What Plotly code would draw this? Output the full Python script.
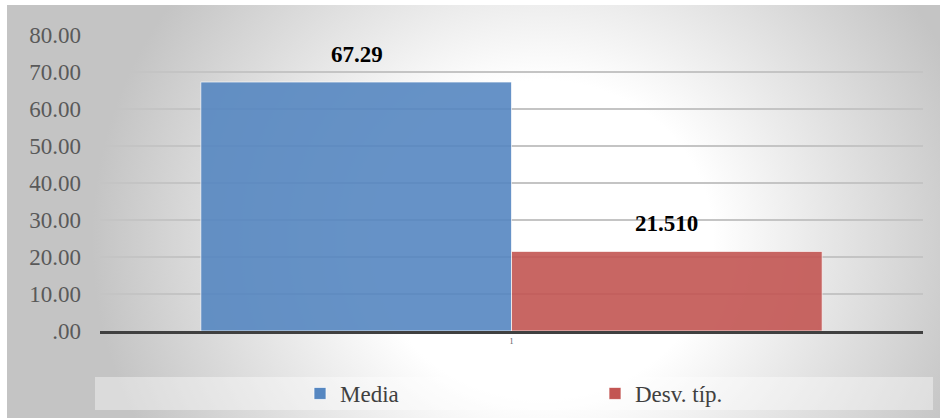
import base64

import plotly.graph_objects as go

series = ["Media", "Desv. típ."]
values = [67.29, 21.510]
value_labels = ["67.29", "21.510"]
category = ["1"]
tick_vals = [0, 10, 20, 30, 40, 50, 60, 70, 80]
tick_text = [".00", "10.00", "20.00", "30.00", "40.00", "50.00", "60.00", "70.00", "80.00"]
bar_colors = ["#5687c1", "#c35653"]

FONT = "Liberation Serif"
W, H = 940, 418
L, R, T, B = 100, 17, 35, 87
pw, ph = W - L - R, H - T - B


def px_x(px):
    return (px - L) / pw


def px_y(py):
    return (H - B - py) / ph


# radial gray->white backdrop like the office chart style
svg = (
    '<svg xmlns="http://www.w3.org/2000/svg" width="933" height="413" '
    'viewBox="0 0 933 413" preserveAspectRatio="none">'
    '<defs><radialGradient id="g" gradientUnits="userSpaceOnUse" cx="0" cy="0" r="1" '
    'gradientTransform="translate(535 235) scale(450 420)">'
    '<stop offset="0" stop-color="#ffffff"/>'
    '<stop offset="0.38" stop-color="#ffffff"/>'
    '<stop offset="1" stop-color="#c4c4c4"/>'
    '</radialGradient></defs>'
    '<rect x="0" y="0" width="933" height="413" fill="url(#g)"/>'
    '</svg>'
)
bg_src = "data:image/svg+xml;base64," + base64.b64encode(svg.encode()).decode()

fig = go.Figure()
for name, val, col in zip(series, values, bar_colors):
    fig.add_trace(go.Bar(
        x=category, y=[val], name=name,
        marker=dict(color=col, opacity=0.9, line=dict(color="rgba(255,255,255,0.7)", width=1)),
        hoverinfo="name+y",
    ))

annotations = []
for i, (val, lab) in enumerate(zip(values, value_labels)):
    # x=0 is the index of the single category; the shift moves it over its bar in the group
    annotations.append(dict(
        x=0, y=val, text="<b>" + lab + "</b>", showarrow=False,
        xshift=(-155 if i == 0 else 155), yshift=13, yanchor="bottom",
        font=dict(family=FONT, size=23, color="#000000"),
    ))

fig.update_layout(
    width=W, height=H,
    margin=dict(l=L, r=R, t=T, b=B, pad=0, autoexpand=False),
    paper_bgcolor="white", plot_bgcolor="rgba(0,0,0,0)",
    font=dict(family=FONT, size=23, color="#595959"),
    barmode="group", bargap=0.245, bargroupgap=0,
    images=[dict(
        source=bg_src, xref="paper", yref="paper",
        x=px_x(7), y=px_y(5), sizex=(W - 7) / pw, sizey=(H - 5) / ph,
        xanchor="left", yanchor="top", sizing="stretch", layer="below",
    )],
    shapes=[dict(
        type="rect", xref="paper", yref="paper", layer="below",
        x0=px_x(95), x1=px_x(933), y0=px_y(410), y1=px_y(377),
        fillcolor="rgba(255,255,255,0.4)", line=dict(width=0),
    )],
    annotations=annotations,
    showlegend=True,
    legend=dict(
        orientation="h", x=px_x(300), xanchor="left", y=px_y(393.5), yanchor="middle",
        bgcolor="rgba(0,0,0,0)", font=dict(family=FONT, size=23, color="#404040"),
        entrywidth=250, entrywidthmode="pixels", itemwidth=30,
    ),
    xaxis=dict(
        type="category", range=[-0.5, 0.5], showgrid=False, showline=True,
        linecolor="#404040", linewidth=3, automargin=False,
        ticks="", tickfont=dict(family=FONT, size=8, color="#595959"), fixedrange=True,
    ),
    yaxis=dict(
        range=[0, 80], tickvals=tick_vals, ticktext=tick_text, automargin=False,
        showgrid=True, gridcolor="#c4c4c4", gridwidth=1.5, zeroline=False, showline=False,
        ticks="", ticklabelstandoff=18, tickfont=dict(family=FONT, size=23, color="#595959"),
    ),
)

# page has a default 8px body margin; drop it so the chart sits at the window corner
fig.write_html(
    "out.html",
    config={"displayModeBar": False},
    post_script="document.body.style.margin='0';",
)
